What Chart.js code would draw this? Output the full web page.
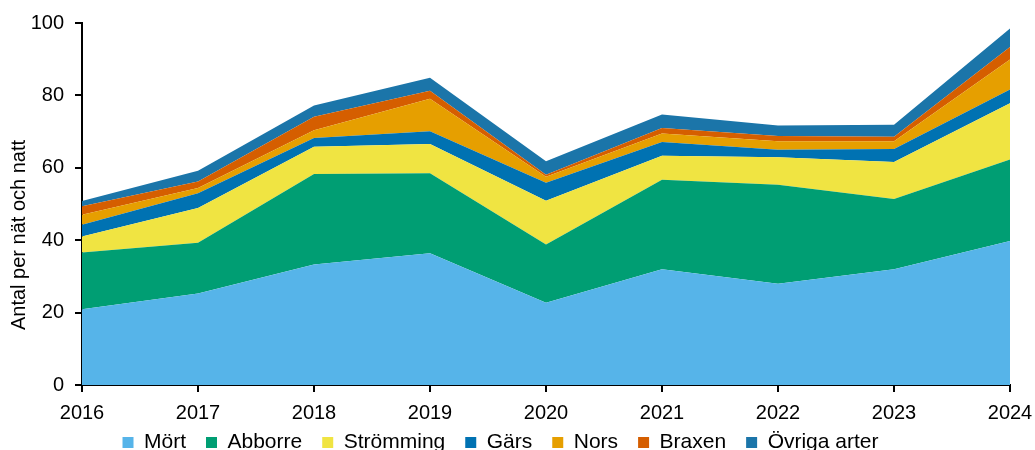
<!DOCTYPE html>
<html>
<head>
<meta charset="utf-8">
<script src="https://cdn.jsdelivr.net/npm/chart.js@4"></script>
<style>
  html, body { margin: 0; padding: 0; background: #fff; }
  #wrap { width: 1035px; height: 450px; }
</style>
</head>
<body>
<div id="wrap"><canvas id="fiskChart" width="1035" height="450"></canvas></div>
<script>
// Antal per nät och natt, per art och år
const years = ['2016', '2017', '2018', '2019', '2020', '2021', '2022', '2023', '2024'];
const mort = [20.9, 25.3, 33.3, 36.4, 22.7, 32.0, 28.0, 32.0, 39.8];
const abborre = [15.7, 14.0, 25.0, 22.1, 16.1, 24.7, 27.3, 19.4, 22.5];
const stromming = [4.4, 9.6, 7.5, 8.1, 12.1, 6.6, 7.6, 10.2, 15.5];
const gars = [3.3, 4.1, 2.4, 3.5, 5.0, 3.8, 2.1, 3.6, 3.8];
const nors = [2.7, 1.4, 2.2, 9.0, 1.6, 2.4, 2.3, 2.1, 8.3];
const braxen = [2.4, 1.8, 3.7, 2.2, 0.6, 1.5, 1.5, 1.3, 3.5];
const ovriga = [1.4, 3.0, 3.1, 3.6, 3.7, 3.7, 2.9, 3.3, 5.1];
const yTicks = [0, 20, 40, 60, 80, 100];
const yTitle = 'Antal per nät och natt';

const series = [
    { label: 'Mört', data: mort, color: '#56b4e9' },
    { label: 'Abborre', data: abborre, color: '#009e73' },
    { label: 'Strömming', data: stromming, color: '#f0e442' },
    { label: 'Gärs', data: gars, color: '#0072b2' },
    { label: 'Nors', data: nors, color: '#e69f00' },
    { label: 'Braxen', data: braxen, color: '#d55e00' },
    { label: 'Övriga arter', data: ovriga, color: '#1b75a9' }
];

const fontFamily = 'Liberation Sans, Arial, sans-serif';
const tickFont = { family: fontFamily, size: 20 };
const legendFont = { family: fontFamily, size: 21 };

// Legenden ligger tätt under x-axeln: låg höjd i layouten, sedan flyttas den upp lite
const legendPlacement = {
    id: 'legendPlacement',
    beforeInit: function(chart) {
        const origFit = chart.legend.fit;
        chart.legend.fit = function() {
            origFit.call(this);
            this.height = 28;
        };
    },
    afterLayout: function(chart) {
        chart.legend.top = 412;
        chart.legend.bottom = 450;
        chart.legend.right = 1001;
    }
};

// Y-axelns titel, lite nedflyttad som i förlagan
const yAxisTitle = {
    id: 'yAxisTitle',
    afterDraw: function(chart) {
        const ctx = chart.ctx;
        ctx.save();
        ctx.translate(19, 235);
        ctx.rotate(-Math.PI / 2);
        ctx.font = '20px ' + fontFamily;
        ctx.fillStyle = '#000';
        ctx.textAlign = 'center';
        ctx.textBaseline = 'middle';
        ctx.fillText(yTitle, 0, 0);
        ctx.restore();
    }
};

new Chart(document.getElementById('fiskChart'), {
    type: 'line',
    data: {
        labels: years,
        datasets: series.map(function(s, i) {
            return {
                label: s.label,
                data: s.data,
                backgroundColor: s.color,
                borderColor: s.color,
                borderWidth: 0,
                pointRadius: 0,
                tension: 0,
                fill: i === 0 ? 'origin' : '-1'
            };
        })
    },
    plugins: [legendPlacement, yAxisTitle],
    options: {
        responsive: false,
        animation: false,
        layout: { padding: { left: 0, right: 0, top: 22, bottom: 0 } },
        plugins: {
            tooltip: { enabled: false },
            legend: {
                position: 'bottom',
                labels: {
                    font: legendFont,
                    color: '#000',
                    boxWidth: 11,
                    boxHeight: 11,
                    padding: 20
                }
            }
        },
        scales: {
            x: {
                offset: false,
                afterFit: function(scale) {
                    scale.height = 37;
                    scale.paddingLeft = 0;
                    scale.paddingRight = 25;
                },
                grid: { drawOnChartArea: false, drawTicks: true, tickLength: 7, color: '#000', lineWidth: 2 },
                border: { color: '#000', width: 2 },
                ticks: { font: tickFont, color: '#000', maxRotation: 0, padding: 9 }
            },
            y: {
                stacked: true,
                min: 0,
                max: 100,
                afterBuildTicks: function(scale) {
                    scale.ticks = yTicks.map(function(v) { return { value: v }; });
                },
                afterFit: function(scale) { scale.width = 82; },
                grid: { drawOnChartArea: false, drawTicks: true, tickLength: 7, color: '#000', lineWidth: 2 },
                border: { color: '#000', width: 2 },
                ticks: { font: tickFont, color: '#000', padding: 11 }
            }
        }
    }
});
</script>
</body>
</html>
